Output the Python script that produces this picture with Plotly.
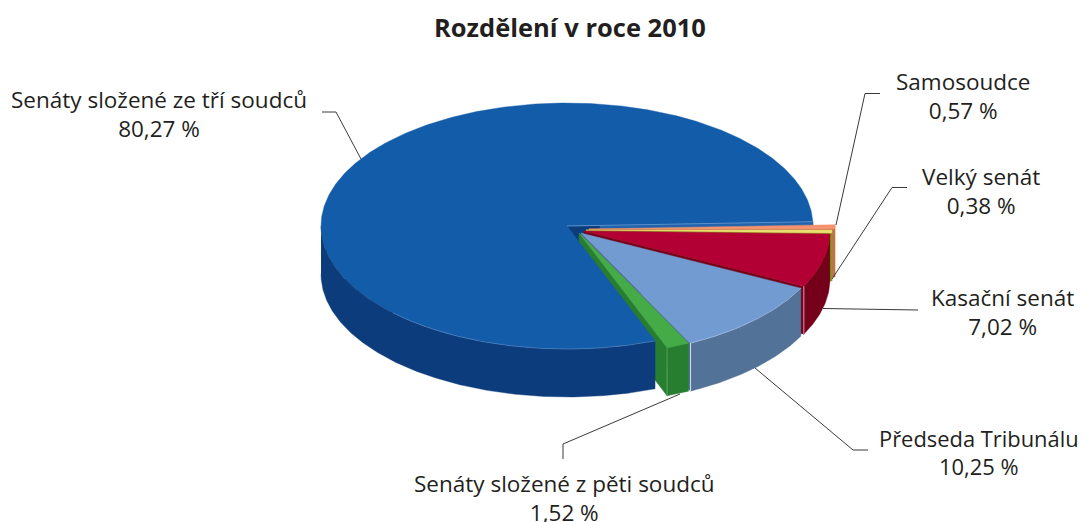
import numpy as np
import plotly.graph_objects as go

title = "Rozdělení v roce 2010"
categories = ["Senáty složené ze tří soudců", "Senáty složené z pěti soudců", "Předseda Tribunálu",
              "Kasační senát", "Velký senát", "Samosoudce"]
values = [80.27, 1.52, 10.25, 7.02, 0.38, 0.57]
value_labels = ["80,27 %", "1,52 %", "10,25 %", "7,02 %", "0,38 %", "0,57 %"]
top_colors = ["#135CA9", "#44AB46", "#729BD2", "#B20034", "#E9DF6E", "#F4936E"]
wall_colors = ["#0C3C7C", "#277D30", "#537298", "#75001A", "#8A9A20", "#C4704A"]
label_sizes = [22.5, 22.5, 21.9, 22.5, 22.5, 22.5]

# drawing geometry (pixels of the 1085x522 page)
RX, RY, DEPTH = 246, 123, 48
START = 2.0
apex = [(567, 226), (579, 233), (581, 233), (584, 231), (586, 230), (589, 229)]
text_pos = [(159, 114), (564, 498), (978.5, 452), (1002, 312), (981, 190.5), (963, 96)]
leaders = [[(322, 112), (336, 112), (361, 159)],
           [(563, 459), (563, 444), (680, 394)],
           [(868, 450), (853, 450), (755, 368)],
           [(918, 310), (823, 308.5)],
           [(907, 187.5), (892, 187.5), (832, 279)],
           [(880, 93.5), (865, 93.5), (836, 225)]]
FONT = "Open Sans"
TEXT = "#231F20"

angles = [START]
for v in values:
    angles.append(angles[-1] + v * 3.6)

fig = go.Figure()


def poly(xs, ys, color):
    fig.add_trace(go.Scatter(x=list(xs), y=list(ys), mode="lines", fill="toself", fillcolor=color,
                             line=dict(color=color, width=0.4), hoverinfo="skip", showlegend=False))


def stroke(xs, ys, color, width=1):
    fig.add_trace(go.Scatter(x=list(xs), y=list(ys), mode="lines", line=dict(color=color, width=width),
                             hoverinfo="skip", showlegend=False))


def rim(i, a0, a1, drop=0):
    t = np.radians(np.linspace(a0, a1, max(int(abs(a1 - a0)) * 2, 2)))
    return apex[i][0] + RX * np.cos(t), apex[i][1] - RY * np.sin(t) + drop


def top(i):
    x, y = rim(i, angles[i], angles[i + 1])
    poly(np.r_[apex[i][0], x, apex[i][0]], np.r_[apex[i][1], y, apex[i][1]], top_colors[i])


def outer_wall(i, a0, a1):
    x, y = rim(i, a0, a1)
    xb, yb = rim(i, a1, a0, DEPTH)
    poly(np.r_[x, xb], np.r_[y, yb], wall_colors[i])


def cut_wall(i, a):
    x, y = rim(i, a, a + 0.01)
    ax, ay = apex[i]
    poly([ax, x[0], x[0], ax, ax], [ay, y[0], y[0] + DEPTH, ay + DEPTH, ay], wall_colors[i])


# back of the gap: the cut face of the large slice, lighter towards the rim
cut_wall(0, angles[0])
rx0, ry0 = rim(0, angles[0], angles[0] + 0.01)
poly([600, rx0[0], rx0[0], 600, 600], [225.3, ry0[0], ry0[0] + 10, 235.3, 225.3], "#2064AE")
# exploded slices from the back to the front
for i in [5, 4, 3, 2]:
    cut_wall(i, angles[i])
    outer_wall(i, angles[i], angles[i + 1])
    top(i)
cut_wall(1, angles[1])
outer_wall(1, angles[1], angles[2])
# the large slice
top(0)
outer_wall(0, 180, angles[1])
top(1)

# pale edge highlights
stroke([apex[0][0], rx0[0]], [apex[0][1], ry0[0]], "#6F9AD0", 0.8)
x_b, y_b = rim(0, 225, angles[1])
stroke(x_b, y_b, "#4C84C4", 0.8)
x_l, y_l = rim(2, angles[2], angles[3])
stroke(x_l, y_l, "#9DB9DE", 0.8)
x_s, y_s = rim(2, angles[2], angles[2] + 0.01)
stroke([x_s[0], x_s[0]], [y_s[0], y_s[0] + DEPTH], "#D8DEE8")
x_s, y_s = rim(3, angles[3], angles[3] + 0.01)
stroke([x_s[0], x_s[0]], [y_s[0], y_s[0] + DEPTH], "#D89AA8")
x_s, y_s = rim(1, angles[1], angles[1] + 0.01)
stroke([x_s[0], x_s[0]], [y_s[0], y_s[0] + DEPTH], "#6FAF74", 0.7)

for pts in leaders:
    stroke([p[0] for p in pts], [p[1] for p in pts], "#3A3A3A")

annotations = [dict(x=570, y=26.5, text="<b>%s</b>" % title, showarrow=False, xanchor="center", yanchor="middle",
                    font=dict(family=FONT, size=25.5, color=TEXT))]
for name, lab, size, (cx, cy) in zip(categories, value_labels, label_sizes, text_pos):
    annotations.append(dict(x=cx, y=cy, text=name + "<br>" + lab, showarrow=False, xanchor="center",
                            yanchor="middle", align="center", font=dict(family=FONT, size=size, color=TEXT)))

fig.update_layout(width=1085, height=522, margin=dict(l=0, r=0, t=0, b=0),
                  paper_bgcolor="white", plot_bgcolor="white", annotations=annotations,
                  xaxis=dict(range=[0, 1085], visible=False, fixedrange=True),
                  yaxis=dict(range=[522, 0], visible=False, fixedrange=True),
                  showlegend=False)
fig.write_html("out.html", config=dict(displayModeBar=False),
               post_script="document.body.style.margin='0';document.body.style.overflow='hidden';")
